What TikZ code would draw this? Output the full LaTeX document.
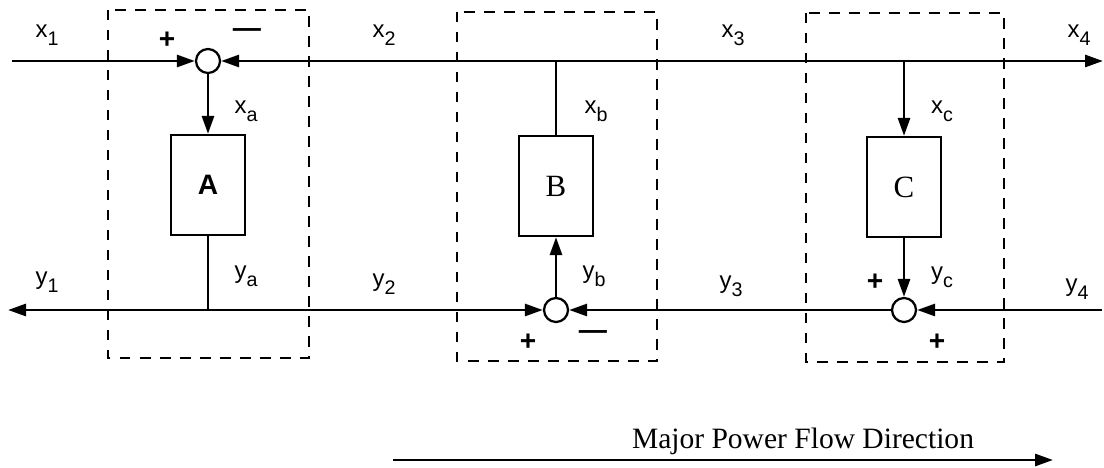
\documentclass[tikz,border=0pt]{standalone}
\usepackage{fontspec}
\setmainfont{Liberation Serif}
\newfontfamily\labelfont{Liberation Sans}
\usetikzlibrary{arrows.meta}
\newcommand{\subsig}[2]{#1\raisebox{-2mm}{\fontsize{14}{14}\selectfont #2}}

\begin{document}
\begin{tikzpicture}[x=0.025cm,y=-0.025cm,
  every node/.style={align=center,inner sep=0pt},
  block/.style={draw,line width=1.6pt,minimum width=18.5mm,minimum height=25mm},
  summer/.style={draw,circle,line width=1.6pt,minimum size=6mm},
  group/.style={dashed,dash pattern=on 2.6mm off 2.4mm,line width=1.5pt},
  sig/.style={font=\labelfont\fontsize{17}{17}\selectfont},
  sgn/.style={font=\labelfont\bfseries\fontsize{20}{20}\selectfont},
  arr/.style={-{Triangle[length=4.5mm,width=3mm]},line width=2pt},
  wire/.style={line width=1.7pt}
]
  \useasboundingbox (0,0) rectangle (1104,467);

  % dashed subsystem frames
  \draw[group] (108,10) rectangle (309,358);
  \draw[group] (457,12) rectangle (657,361);
  \draw[group] (806,13) rectangle (1004,362);

  % blocks and summing junctions
  \node[block,font=\labelfont\bfseries\fontsize{20}{20}\selectfont] (blkA) at (208,185) {A};
  \node[block,font=\fontsize{22}{22}\selectfont] (blkB) at (556,186) {B};
  \node[block,font=\fontsize{22}{22}\selectfont] (blkC) at (904,187) {C};
  \node[summer] (sumA) at (208,61) {};
  \node[summer] (sumB) at (556,310) {};
  \node[summer] (sumC) at (904,310) {};

  % line ends and taps
  \coordinate (xin) at (12,61);
  \coordinate (xout) at (1103,61);
  \coordinate (tapB) at (556,61);
  \coordinate (tapC) at (904,61);
  \coordinate (yout) at (8,310);
  \coordinate (yin) at (1102,310);
  \coordinate (tapA) at (208,310);
  \coordinate (flowL) at (393,460);
  \coordinate (flowR) at (1053,460);

  % x path
  \draw[arr] (xin) -- (sumA);
  \draw[arr] (tapB) -- (sumA);
  \draw[arr] (tapB) -- (xout);
  \draw[arr] (sumA) -- (blkA);
  \draw[wire] (tapB) -- (blkB);
  \draw[arr] (tapC) -- (blkC);

  % y path
  \draw[wire] (blkA) -- (tapA);
  \draw[arr] (tapA) -- (yout);
  \draw[arr] (tapA) -- (sumB);
  \draw[arr] (sumC) -- (sumB);
  \draw[arr] (yin) -- (sumC);
  \draw[arr] (sumB) -- (blkB);
  \draw[arr] (blkC) -- (sumC);

  % signal labels
  \node[sig] (lx1) at (47,35) {\subsig{x}{1}};
  \node[sig] (lx2) at (384,35) {\subsig{x}{2}};
  \node[sig] (lx3) at (733,35) {\subsig{x}{3}};
  \node[sig] (lx4) at (1079,35) {\subsig{x}{4}};
  \node[sig] (lxa) at (246,111) {\subsig{x}{a}};
  \node[sig] (lxb) at (596,111) {\subsig{x}{b}};
  \node[sig] (lxc) at (942,111) {\subsig{x}{c}};
  \node[sig] (lya) at (246,276) {\subsig{y}{a}};
  \node[sig] (lyb) at (594,276) {\subsig{y}{b}};
  \node[sig] (lyc) at (942,277) {\subsig{y}{c}};
  \node[sig] (ly1) at (47,282) {\subsig{y}{1}};
  \node[sig] (ly2) at (384,284) {\subsig{y}{2}};
  \node[sig] (ly3) at (731,286) {\subsig{y}{3}};
  \node[sig] (ly4) at (1077,289) {\subsig{y}{4}};

  % signs at the junctions
  \node[sgn] (pA) at (167,40) {+};
  \node[sgn] (mA) at (247,33) {—};
  \node[sgn] (pB) at (528,342) {+};
  \node[sgn] (mB) at (593,335) {—};
  \node[sgn] (pC) at (875,282) {+};
  \node[sgn] (qC) at (937,342) {+};

  % power flow
  \node[font=\fontsize{21}{21}\selectfont] (flowtxt) at (803,441) {Major Power Flow Direction};
  \draw[arr] (flowL) -- (flowR);
\end{tikzpicture}
\end{document}
